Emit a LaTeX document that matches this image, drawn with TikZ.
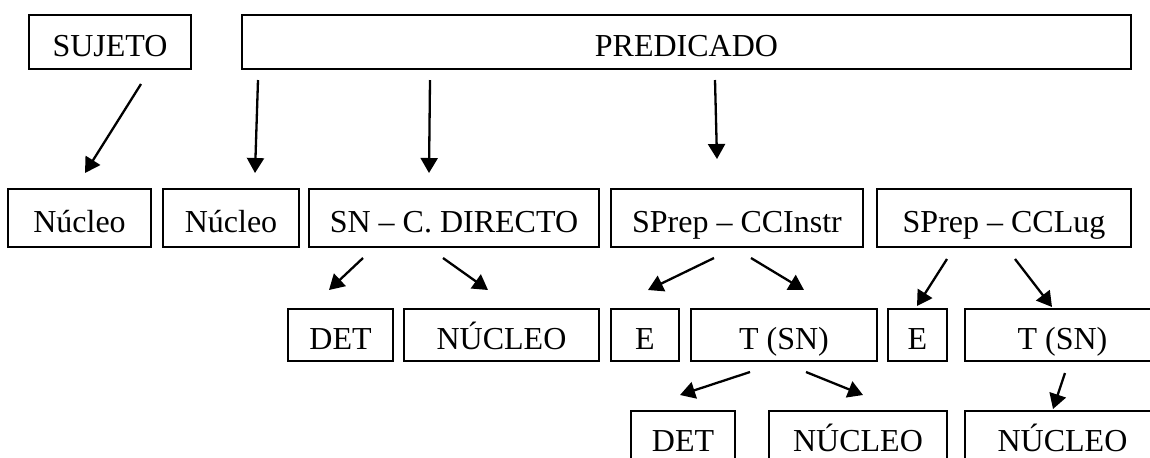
\documentclass[tikz,border=0pt]{standalone}
\usepackage{fontspec}
\setmainfont{Liberation Serif}
\usetikzlibrary{arrows.meta}

\newcommand\rowa{42}
\newcommand\rowb{218}
\newcommand\rowc{335}
\newcommand\rowd{437}

\begin{document}
\begin{tikzpicture}[x=0.5pt,y=-0.5pt,
    box/.style={draw,line width=1pt,inner sep=0pt,text height=14pt,text depth=0pt,
      font=\fontsize{16}{19}\selectfont},
    arr/.style={line width=1.15pt,-{Triangle[length=7.5pt,width=8.5pt]}}]
    \useasboundingbox (0,0) rectangle (1150,457);
    \clip (0,0) rectangle (1150,457);

    \node[box,minimum width=81pt,minimum height=27pt] (sujeto) at (110,\rowa) {SUJETO};
    \node[box,minimum width=444.5pt,minimum height=27pt] (predicado) at (686.5,\rowa) {PREDICADO};

    \node[box,minimum width=71.5pt,minimum height=29pt] (nucsuj) at (79.5,\rowb) {Núcleo};
    \node[box,minimum width=68pt,minimum height=29pt] (nucpred) at (231,\rowb) {Núcleo};
    \node[box,minimum width=145pt,minimum height=29pt] (cdirecto) at (454,\rowb) {SN -- C. DIRECTO};
    \node[box,minimum width=126pt,minimum height=29pt] (ccinstr) at (737,\rowb) {SPrep -- CCInstr};
    \node[box,minimum width=127pt,minimum height=29pt] (cclug) at (1004,\rowb) {SPrep -- CCLug};

    \node[box,minimum width=52.5pt,minimum height=26pt] (detcd) at (340.5,\rowc) {DET};
    \node[box,minimum width=97.5pt,minimum height=26pt] (nuccd) at (501.5,\rowc) {NÚCLEO};
    \node[box,minimum width=34pt,minimum height=26pt] (einstr) at (645,\rowc) {E};
    \node[box,minimum width=93pt,minimum height=26pt] (tinstr) at (784,\rowc) {T (SN)};
    \node[box,minimum width=29.5pt,minimum height=26pt] (elug) at (917.5,\rowc) {E};
    \node[box,minimum width=97.5pt,minimum height=26pt] (tlug) at (1062.5,\rowc) {T (SN)};

    \node[box,minimum width=52pt,minimum height=26pt] (detinstr) at (683,\rowd) {DET};
    \node[box,minimum width=89pt,minimum height=26pt] (nucinstr) at (858,\rowd) {NÚCLEO};
    \node[box,minimum width=97.5pt,minimum height=26pt] (nuclug) at (1062.5,\rowd) {NÚCLEO};

    % first level
    \draw[arr] ([shift={(31,14)}]sujeto.south) -- ([shift={(5.5,-15)}]nucsuj.north);
    \draw[arr] ([shift={(17,10)}]predicado.south west) -- ([shift={(24,-15)}]nucpred.north);
    \draw[arr] ([shift={(189,10)}]predicado.south west) -- ([shift={(-25,-15)}]cdirecto.north);
    \draw[arr] ([shift={(28.5,10)}]predicado.south) -- ([shift={(-20,-29)}]ccinstr.north);

    % second level
    \draw[arr] ([shift={(-91,10)}]cdirecto.south) -- ([shift={(-11.5,-18)}]detcd.north);
    \draw[arr] ([shift={(-11,10)}]cdirecto.south) -- ([shift={(-13.5,-18)}]nuccd.north);
    \draw[arr] ([shift={(-23,10)}]ccinstr.south) -- ([shift={(3,-18)}]einstr.north);
    \draw[arr] ([shift={(14,10)}]ccinstr.south) -- ([shift={(20,-18)}]tinstr.north);
    \draw[arr] ([shift={(-57,11)}]cclug.south) -- ([shift={(-0.5,-2)}]elug.north);
    \draw[arr] ([shift={(11,11)}]cclug.south) -- ([shift={(-10.5,-1)}]tlug.north);

    % third level
    \draw[arr] ([shift={(-34,10)}]tinstr.south) -- ([shift={(-3,-15)}]detinstr.north);
    \draw[arr] ([shift={(22,10)}]tinstr.south) -- ([shift={(5,-15)}]nucinstr.north);
    \draw[arr] ([shift={(2.5,11)}]tlug.south) -- ([shift={(-9.5,-1)}]nuclug.north);
\end{tikzpicture}
\end{document}
